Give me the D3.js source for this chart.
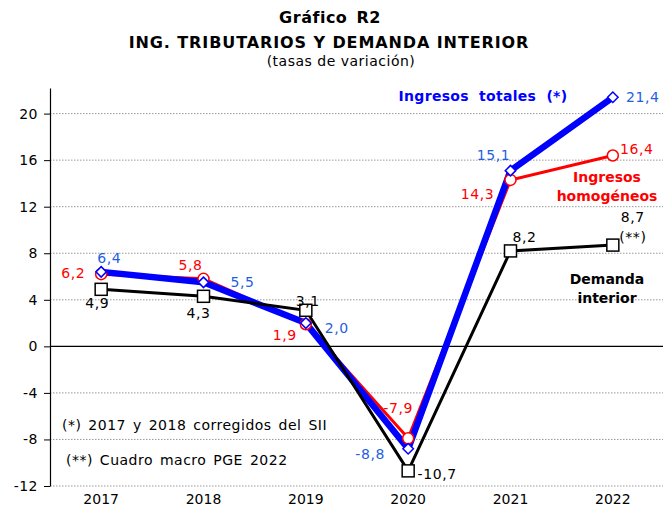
<!DOCTYPE html>
<html lang="es">
<head>
<meta charset="UTF-8">
<title>Gráfico R2</title>
<script src="https://d3js.org/d3.v7.min.js"></script>
<style>
    body { margin: 0; background: #fff; }
    svg { font-family: "DejaVu Sans", Verdana, sans-serif; }
    .grid line { stroke: #999; stroke-dasharray: 1.5,1.5; }
    .lbl { font-size: 14px; letter-spacing: 0.6px; }
    .key { font-size: 14px; font-weight: bold; }
    .note { font-size: 14px; letter-spacing: 0.5px; word-spacing: 2px; }
</style>
</head>
<body>
<svg width="663" height="507"></svg>
<script>
const years = ["2017", "2018", "2019", "2020", "2021", "2022"];
const totales = [6.4, 5.5, 2.0, -8.8, 15.1, 21.4];
const homogeneos = [6.2, 5.8, 1.9, -7.9, 14.3, 16.4];
const demanda = [4.9, 4.3, 3.1, -10.7, 8.2, 8.7];
const yTicks = [-12, -8, -4, 0, 4, 8, 12, 16, 20];

const svg = d3.select("svg");
const fmt = v => v.toFixed(1).replace(".", ",");

const x = d3.scaleBand().domain(years).range([50, 664]);
const y = d3.scaleLinear().domain([-12, 22.2]).range([486, 88]);
const cx = i => x(years[i]) + x.bandwidth() / 2;

// Titles
svg.append("text").attr("x", 330).attr("y", 23).attr("text-anchor", "middle")
    .style("font-size", "16px").style("font-weight", "bold").style("letter-spacing", "0.5px")
    .style("word-spacing", "3px").text("Gráfico R2");
svg.append("text").attr("x", 329).attr("y", 48).attr("text-anchor", "middle")
    .style("font-size", "16px").style("font-weight", "bold").style("letter-spacing", "0.9px")
    .text("ING. TRIBUTARIOS Y DEMANDA INTERIOR");
svg.append("text").attr("x", 341).attr("y", 66).attr("text-anchor", "middle")
    .style("font-size", "14px").style("letter-spacing", "0.5px").text("(tasas de variación)");

// Gridlines
svg.append("g").attr("class", "grid")
    .selectAll("line").data(yTicks.filter(t => t !== 0)).enter().append("line")
    .attr("x1", 50).attr("x2", 663)
    .attr("y1", d => y(d)).attr("y2", d => y(d));

svg.append("line").attr("x1", 50).attr("x2", 663)
    .attr("y1", y(0)).attr("y2", y(0)).attr("stroke", "#000").attr("stroke-width", 1.2);

// Y axis
const yAxis = svg.append("g").attr("transform", "translate(50,0)")
    .call(d3.axisLeft(y).tickValues(yTicks).tickFormat(d => String(d))
        .tickSize(6).tickPadding(6).tickSizeOuter(0));
yAxis.select(".domain").attr("stroke-width", 1.2);
yAxis.selectAll("text").style("font-size", "14px").style("letter-spacing", "0.5px")
    .style("font-family", "DejaVu Sans, Verdana, sans-serif");

// X labels
svg.append("g").selectAll("text").data(years).enter().append("text")
    .attr("x", (d, i) => cx(i)).attr("y", 504).attr("text-anchor", "middle")
    .style("font-size", "14px").text(d => d);

const line = d3.line().x((d, i) => cx(i)).y(d => y(d));

// Red line
svg.append("path").datum(homogeneos).attr("d", line)
    .attr("fill", "none").attr("stroke", "#ff0000").attr("stroke-width", 3);
// Blue line
svg.append("path").datum(totales).attr("d", line)
    .attr("fill", "none").attr("stroke", "#0000ff").attr("stroke-width", 6.5).attr("stroke-linejoin", "round");
// Black line
svg.append("path").datum(demanda).attr("d", line)
    .attr("fill", "none").attr("stroke", "#000").attr("stroke-width", 3);

// Markers
svg.append("g").selectAll("circle").data(homogeneos).enter().append("circle")
    .attr("cx", (d, i) => cx(i)).attr("cy", d => y(d)).attr("r", 5.5)
    .attr("fill", "#fff").attr("stroke", "#ff0000").attr("stroke-width", 1.5);
svg.append("g").selectAll("path").data(totales).enter().append("path")
    .attr("d", d3.symbol().type(d3.symbolDiamond2).size(70))
    .attr("transform", (d, i) => `translate(${cx(i)},${y(d)})`)
    .attr("fill", "#fff").attr("stroke", "#0000ff").attr("stroke-width", 1.5);
svg.append("g").selectAll("rect").data(demanda).enter().append("rect")
    .attr("x", (d, i) => cx(i) - 6).attr("y", d => y(d) - 6)
    .attr("width", 12).attr("height", 12)
    .attr("fill", "#fff").attr("stroke", "#000").attr("stroke-width", 1.5);

// Data labels: offsets [dx, dy] of the label centre from the point
const totOff = [[8, -14], [39, 0], [31, 5], [-38, 5], [-17, -16], [30, 0]];
const homOff = [[-28, -1], [-13, -14], [-21, 11], [-10, -30], [-33, 14], [24, -7]];
const demOff = [[-4, 14], [-5, 17], [2, -9], [29, 3], [14, -14], [20, -28]];

function labels(data, off, color) {
    svg.append("g").selectAll("text").data(data).enter().append("text")
        .attr("class", "lbl")
        .attr("x", (d, i) => cx(i) + off[i][0])
        .attr("y", (d, i) => y(d) + off[i][1])
        .attr("dy", "0.36em")
        .attr("text-anchor", "middle").attr("fill", color)
        .text(d => fmt(d));
}
labels(homogeneos, homOff, "#ff0000");
labels(totales, totOff, "#1f5fe0");
labels(demanda, demOff, "#000");

svg.append("text").attr("class", "lbl").attr("x", cx(5) + 20).attr("y", y(8.7) - 8)
    .attr("dy", "0.36em").attr("text-anchor", "middle").text("(**)");

// Series keys
svg.append("text").attr("class", "key").attr("x", 483).attr("y", 101)
    .style("word-spacing", "5px").style("letter-spacing", "0.3px")
    .attr("text-anchor", "middle").attr("fill", "#0000ff").text("Ingresos totales (*)");
svg.append("text").attr("class", "key").attr("x", 607).attr("y", 182)
    .attr("text-anchor", "middle").attr("fill", "#ff0000").text("Ingresos");
svg.append("text").attr("class", "key").attr("x", 607).attr("y", 201)
    .attr("text-anchor", "middle").attr("fill", "#ff0000").text("homogéneos");
svg.append("text").attr("class", "key").attr("x", 607).attr("y", 284)
    .attr("text-anchor", "middle").text("Demanda");
svg.append("text").attr("class", "key").attr("x", 607).attr("y", 303)
    .attr("text-anchor", "middle").text("interior");

// Notes
svg.append("text").attr("class", "note").attr("x", 62).attr("y", 430)
    .text("(*) 2017  y 2018  corregidos del SII");
svg.append("text").attr("class", "note").attr("x", 66).attr("y", 465)
    .text("(**) Cuadro macro PGE 2022");
</script>
</body>
</html>
